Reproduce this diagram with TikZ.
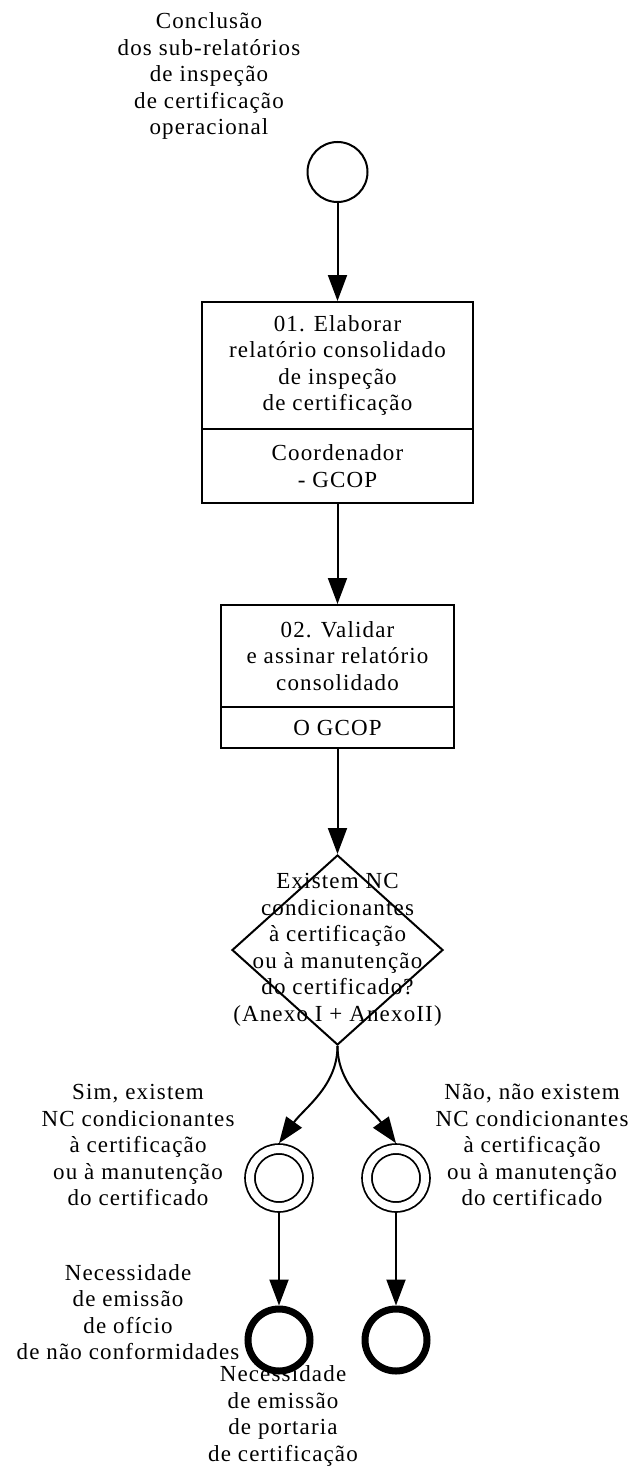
\documentclass[tikz,border=0pt]{standalone}
\usepackage{fontspec}
\setmainfont{Liberation Serif}[LetterSpace=5]
\usetikzlibrary{arrows.meta,shapes.geometric}

\begin{document}
\begin{tikzpicture}[x=1pt,y=-1pt,line width=2pt,
    >={Triangle[length=26pt,width=19pt]},
    every node/.style={font=\fontsize{23}{26.5}\selectfont,align=center},
    box/.style={draw,rectangle,inner sep=0pt},
    startev/.style={circle,draw,minimum size=60pt,inner sep=0pt},
    midev/.style={circle,draw,line width=1.8pt,double,double distance=8pt,
      minimum size=58pt,inner sep=0pt,outer sep=5.8pt},
    endev/.style={circle,draw,line width=7pt,minimum size=62pt,inner sep=0pt}]
  \useasboundingbox (0,0) rectangle (638,1472);
  \node[startev] (start) at (337.5,172) {};
  \node (startlbl) at (209,76) {Conclusão\\dos sub-relatórios\\de inspeção\\de certificação\\operacional};
  \node[box,minimum width=271pt,minimum height=127pt] (t1) at (337.5,365.5)
    {01. Elaborar\\relatório consolidado\\de inspeção\\de certificação};
  \node[box,minimum width=271pt,minimum height=74pt] (r1) at (337.5,466) {Coordenador\\- GCOP};
  \node[box,minimum width=233pt,minimum height=102pt] (t2) at (337.5,656)
    {02. Validar\\e assinar relatório\\consolidado};
  \node[box,minimum width=233pt,minimum height=41pt] (r2) at (337.5,727.5) {O GCOP};
  \node[diamond,draw,minimum width=211pt,minimum height=190pt,inner sep=0pt] (gw) at (337.5,950) {};
  \node (gwlbl) at (gw.center) {Existem NC\\condicionantes\\à certificação\\ou à manutenção\\do certificado?\\(Anexo I + AnexoII)};
  \node[midev] (sim) at (279,1178) {};
  \node[midev] (nao) at (396,1178) {};
  \node (simlbl) at (138,1145) {Sim, existem\\NC condicionantes\\à certificação\\ou à manutenção\\do certificado};
  \node (naolbl) at (532,1145) {Não, não existem\\NC condicionantes\\à certificação\\ou à manutenção\\do certificado};
  \node[endev] (endsim) at (279,1340) {};
  \node[endev] (endnao) at (396,1340) {};
  \node (endsimlbl) at (128,1312) {Necessidade\\de emissão\\de ofício\\de não conformidades};
  \node (endnaolbl) at (283,1416) {Necessidade\\de emissão\\de portaria\\de certificação};
  \draw[->] (start) -- (t1);
  \draw[->] (r1) -- (t2);
  \draw[->] (r2) -- (gw);
  \draw[->] (gw.south) .. controls +(0,40) and +(25,-35) .. (sim.north);
  \draw[->] (gw.south) .. controls +(0,40) and +(-25,-35) .. (nao.north);
  \draw[->] (sim) -- (endsim);
  \draw[->] (nao) -- (endnao);
\end{tikzpicture}
\end{document}
